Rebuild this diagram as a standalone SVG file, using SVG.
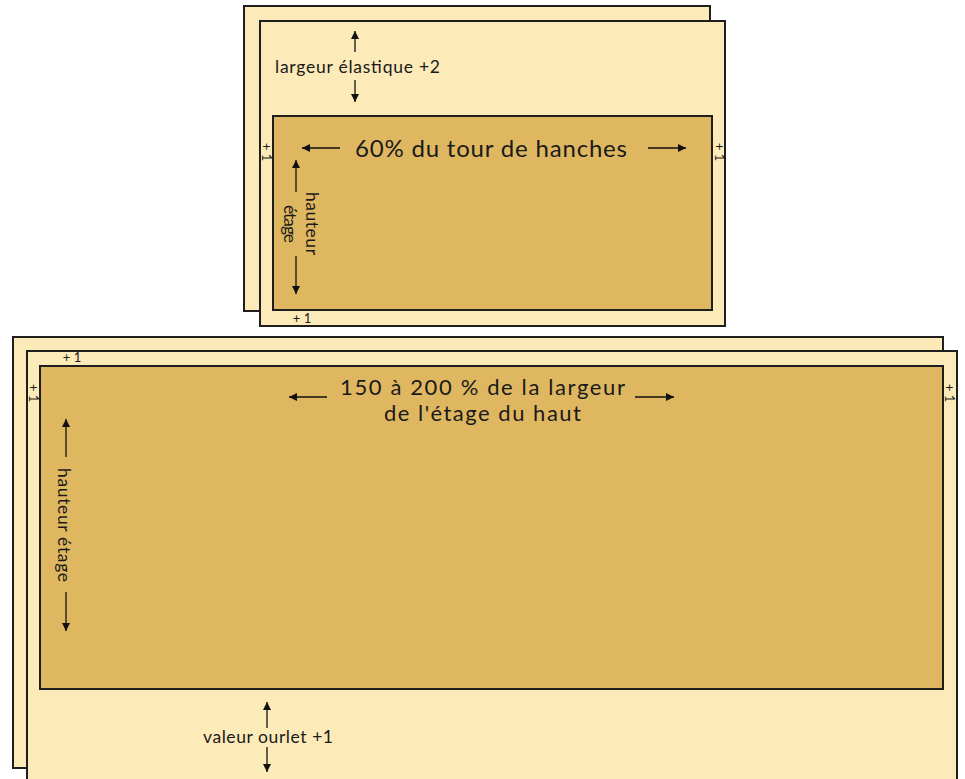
<svg xmlns="http://www.w3.org/2000/svg" width="965" height="779" viewBox="0 0 965 779">
<defs>
<style>
.light{fill:#FCEAB8;stroke:#1e1e1e;stroke-width:2}
.dark{fill:#DFB760;stroke:#1e1e1e;stroke-width:2}
.arr{stroke:#111;stroke-width:1.3;fill:none;marker-end:url(#ah)}
text{font-family:Lato,"Noto Sans",sans-serif;fill:#1a1a1a}
.big{font-size:22px}
.mid{font-size:17.5px}
.sm{font-size:13px}
</style>
<marker id="ah" viewBox="0 0 10 10" refX="10" refY="5" markerWidth="12" markerHeight="8" markerUnits="userSpaceOnUse" orient="auto">
<path d="M0,0 L10,5 L0,10 Z" fill="#111"/>
</marker>
</defs>
<rect width="965" height="779" fill="#ffffff"/>

<g id="top-back"><rect class="light" x="244" y="6" width="466" height="305"/></g>
<g id="top-front"><rect class="light" x="260" y="21" width="465" height="305"/></g>
<g id="top-inner"><rect class="dark" x="273" y="116" width="439" height="194"/></g>

<g id="bottom-back"><rect class="light" x="13" y="337" width="930" height="431"/></g>
<g id="bottom-front"><rect class="light" x="27" y="351" width="930" height="440"/></g>
<g id="bottom-inner"><rect class="dark" x="40" y="366" width="903" height="323"/></g>

<g id="labels">
<text class="mid" x="275" y="73" textLength="165" lengthAdjust="spacing">largeur élastique +2</text>
<text class="big" x="355" y="157" textLength="272" lengthAdjust="spacing" style="font-size:24px">60% du tour de hanches</text>
<text class="sm" transform="translate(262,152) rotate(90)" text-anchor="middle">+ 1</text>
<text class="sm" transform="translate(715,152) rotate(90)" text-anchor="middle">+ 1</text>
<text class="sm" x="302" y="323" text-anchor="middle">+ 1</text>
<text class="mid" transform="translate(306,192) rotate(90)" textLength="63" lengthAdjust="spacing">hauteur</text>
<text class="mid" transform="translate(284,205) rotate(90)" textLength="38" lengthAdjust="spacing">étage</text>

<text class="big" x="340" y="395" textLength="285" lengthAdjust="spacing">150 à 200 % de la largeur</text>
<text class="big" x="384" y="421" textLength="197" lengthAdjust="spacing">de l'étage du haut</text>
<text class="sm" x="72" y="362" text-anchor="middle">+ 1</text>
<text class="sm" transform="translate(29,393) rotate(90)" text-anchor="middle">+ 1</text>
<text class="sm" transform="translate(945,393) rotate(90)" text-anchor="middle">+ 1</text>
<text class="mid" transform="translate(58,468) rotate(90)" textLength="114" lengthAdjust="spacing">hauteur étage</text>
<text class="mid" x="203" y="743" textLength="130" lengthAdjust="spacing">valeur ourlet +1</text>
</g>

<g id="connectors">
<line class="arr" x1="355" y1="52" x2="355" y2="31"/>
<line class="arr" x1="355" y1="80" x2="355" y2="102"/>
<line class="arr" x1="340" y1="148" x2="302" y2="148"/>
<line class="arr" x1="648" y1="148" x2="686" y2="148"/>
<line class="arr" x1="296" y1="192" x2="296" y2="160"/>
<line class="arr" x1="296" y1="256" x2="296" y2="294"/>

<line class="arr" x1="327" y1="397" x2="289" y2="397"/>
<line class="arr" x1="635" y1="397" x2="674" y2="397"/>
<line class="arr" x1="66" y1="457" x2="66" y2="419"/>
<line class="arr" x1="66" y1="592" x2="66" y2="631"/>
<line class="arr" x1="267" y1="728" x2="267" y2="702"/>
<line class="arr" x1="267" y1="747" x2="267" y2="772"/>
</g>
</svg>
